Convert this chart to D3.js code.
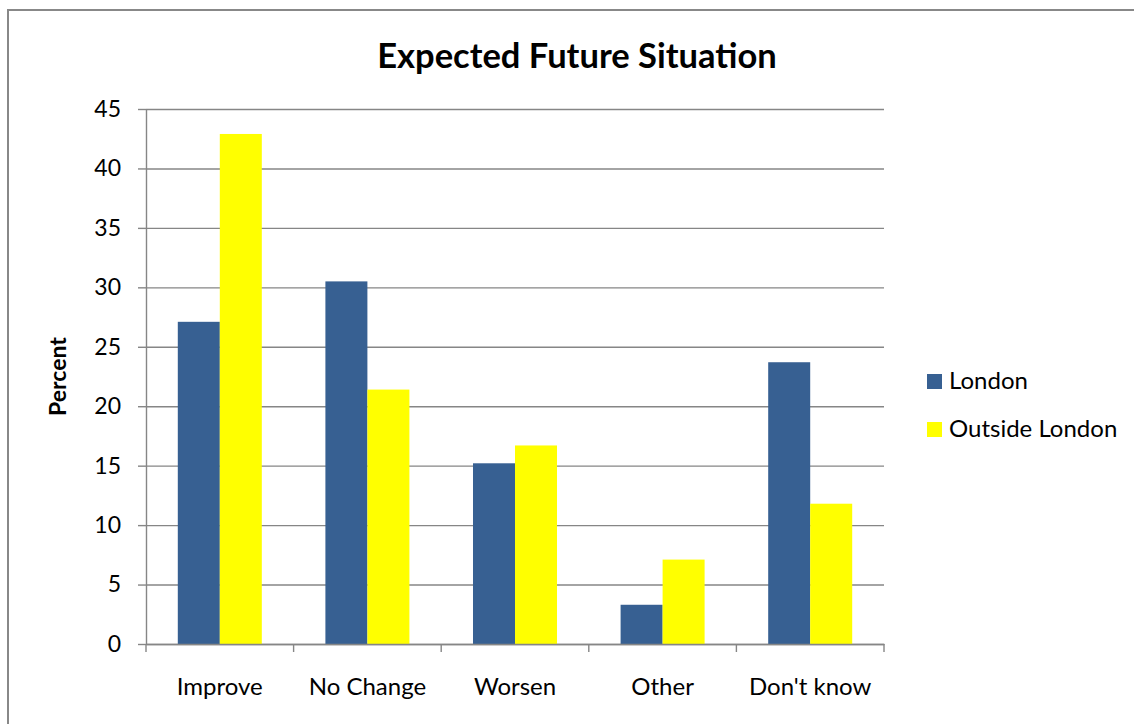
<!DOCTYPE html>
<html>
<head>
<meta charset="utf-8">
<script src="https://cdn.jsdelivr.net/npm/d3@7"></script>
<style>
  body { margin: 0; background: #fff; }
  svg { display: block; font-family: Lato, "Open Sans", sans-serif; }
  .axis path, .axis line { stroke: #868686; }
</style>
</head>
<body>
<svg id="chart" width="1134" height="724"></svg>
<script>
// données
var categories = ["Improve", "No Change", "Worsen", "Other", "Don't know"];
var series = ["London", "Outside London"];
var london = [27.1, 30.5, 15.2, 3.3, 23.7];
var outsideLondon = [42.9, 21.4, 16.7, 7.1, 11.8];
var yTicks = [0, 5, 10, 15, 20, 25, 30, 35, 40, 45];
var colors = ["#376092", "#ffff00"];

var svg = d3.select("#chart");

// cadre (coupé à droite et en bas comme sur l'original)
svg.append("rect")
   .attr("x", 8).attr("y", 10)
   .attr("width", 1300).attr("height", 900)
   .attr("fill", "none")
   .attr("stroke", "#888")
   .attr("stroke-width", 2);

// zone de tracé (pas de "top" : window.top est réservé)
var plotLeft = 146, plotRight = 884, plotTop = 109, plotBottom = 644;

var x0 = d3.scaleBand().domain(categories).range([plotLeft, plotRight]).padding(0);
var x1 = d3.scaleBand().domain(series).range([0, x0.bandwidth()])
           .paddingInner(0).paddingOuter(0.757);
var y = d3.scaleLinear().domain([0, 45]).range([plotBottom, plotTop]);
var color = d3.scaleOrdinal().domain(series).range(colors);

// quadrillage
svg.append("g")
   .attr("class", "axis grid")
   .attr("transform", "translate(" + plotLeft + ",0)")
   .call(d3.axisLeft(y).tickValues(yTicks).tickSize(-(plotRight - plotLeft)).tickFormat(""))
   .call(function(g) { g.select(".domain").remove(); })
   .selectAll("line").attr("stroke-width", 1.4);

// axe Y
svg.append("g")
   .attr("class", "axis")
   .attr("transform", "translate(" + plotLeft + ",0)")
   .call(d3.axisLeft(y).tickValues(yTicks).tickSize(8).tickSizeOuter(0).tickPadding(17))
   .call(function(g) {
     g.select(".domain").attr("stroke-width", 1.4);
     g.selectAll("line").attr("stroke-width", 1.4);
     g.selectAll("text").attr("font-size", 23).attr("fill", "#000")
      .attr("font-family", "Lato, sans-serif");
   });

// barres
var rows = categories.map(function(c, i) {
  return { cat: c, values: [london[i], outsideLondon[i]] };
});

svg.append("g").selectAll("g")
   .data(rows)
   .enter().append("g")
   .attr("transform", function(d) { return "translate(" + x0(d.cat) + ",0)"; })
   .selectAll("rect")
   .data(function(d) { return series.map(function(s, j) { return { s: s, v: d.values[j] }; }); })
   .enter().append("rect")
   .attr("x", function(d) { return x1(d.s); })
   .attr("width", x1.bandwidth())
   .attr("y", function(d) { return y(d.v); })
   .attr("height", function(d) { return y(0) - y(d.v); })
   .attr("fill", function(d) { return color(d.s); });

// axe X
var xAxis = svg.append("g")
   .attr("class", "axis")
   .attr("transform", "translate(0," + plotBottom + ")")
   .call(d3.axisBottom(x0).tickSize(0).tickPadding(34))
   .call(function(g) {
     g.select(".domain").attr("stroke-width", 1.4);
     g.selectAll("text").attr("font-size", 24).attr("fill", "#000")
      .attr("font-family", "Lato, sans-serif");
   });

// graduations aux limites des catégories
var bounds = categories.map(function(c) { return x0(c); }).concat([x0.range()[1]]);
xAxis.selectAll(".bound")
   .data(bounds)
   .enter().append("line")
   .attr("class", "bound")
   .attr("x1", function(d) { return d; })
   .attr("x2", function(d) { return d; })
   .attr("y1", 0).attr("y2", 8)
   .attr("stroke", "#868686")
   .attr("stroke-width", 1.4);

// titre
svg.append("text")
   .attr("x", 577).attr("y", 68)
   .attr("text-anchor", "middle")
   .attr("font-size", 34.5)
   .attr("font-weight", "bold")
   .text("Expected Future Situation");

// titre de l'axe Y
svg.append("text")
   .attr("transform", "translate(66," + ((plotTop + plotBottom) / 2) + ") rotate(-90)")
   .attr("text-anchor", "middle")
   .attr("font-size", 23)
   .attr("font-weight", "bold")
   .text("Percent");

// légende
var legend = svg.append("g").selectAll("g")
   .data(series)
   .enter().append("g")
   .attr("transform", function(d, i) { return "translate(927," + (374 + i * 48) + ")"; });

legend.append("rect")
   .attr("width", 15).attr("height", 15)
   .attr("fill", function(d) { return color(d); });

legend.append("text")
   .attr("x", 22).attr("y", 15)
   .attr("font-size", 24)
   .text(function(d) { return d; });
</script>
</body>
</html>
